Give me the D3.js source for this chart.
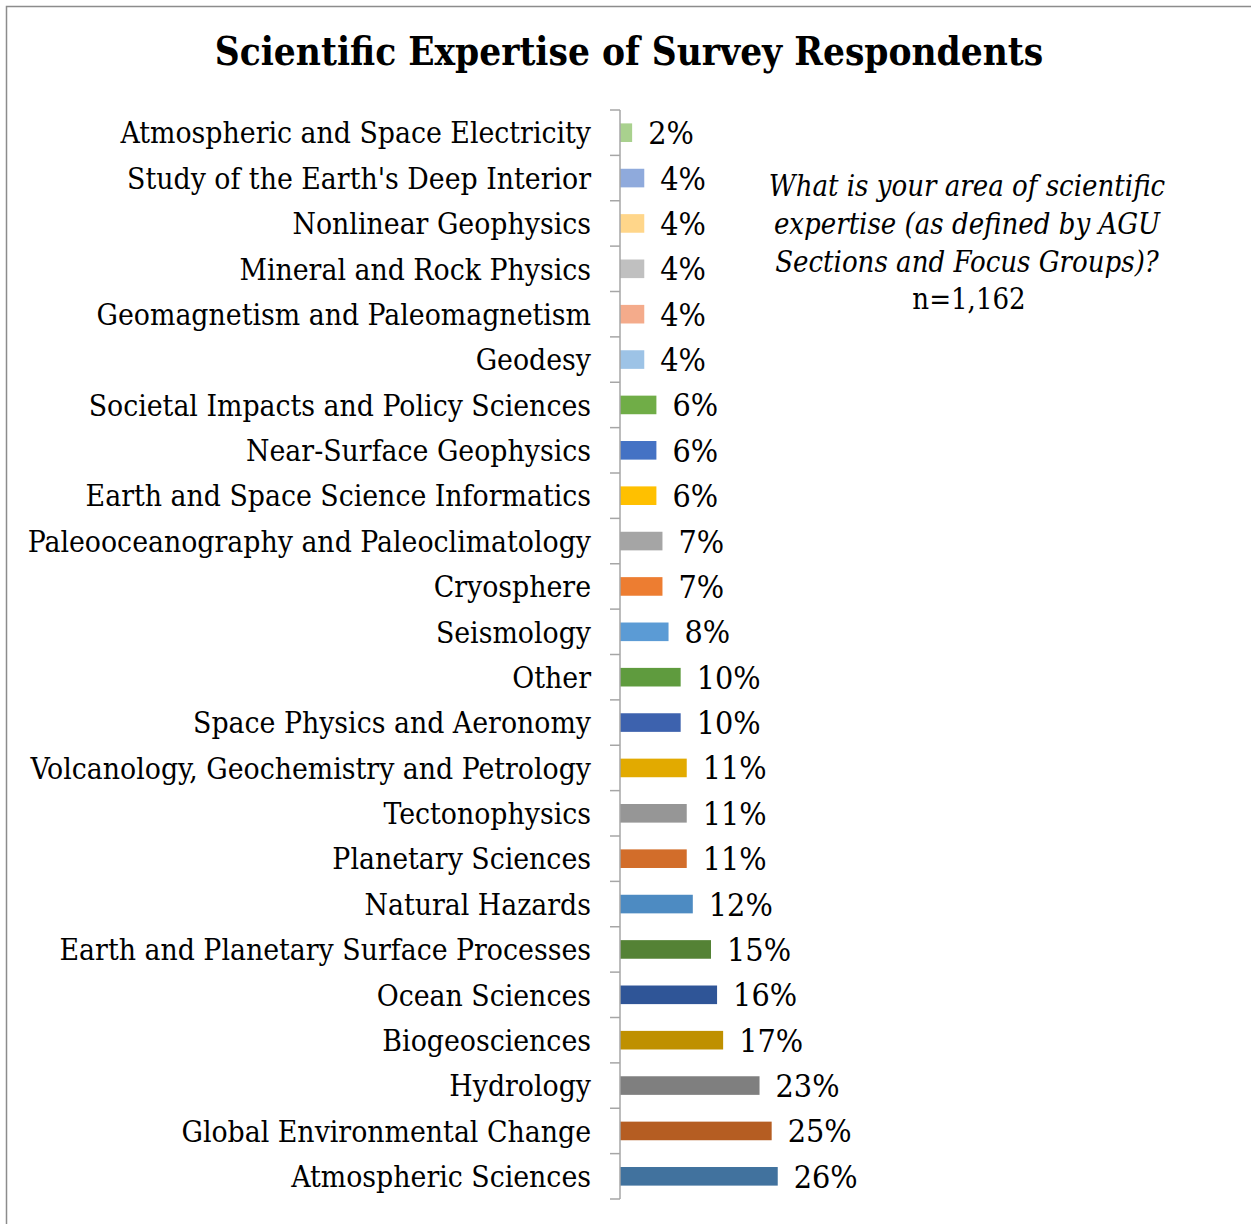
<!DOCTYPE html>
<html>
<head>
<meta charset="utf-8">
<script src="https://cdn.jsdelivr.net/npm/d3@7"></script>
<style>
  html, body { margin: 0; padding: 0; background: #fff; }
  svg { display: block; }
  .serif { font-family: "DejaVu Serif", serif; font-stretch: condensed; }
</style>
</head>
<body>
<svg id="chart" width="1251" height="1224"></svg>
<script>
// Survey categories, listed top to bottom
const categories = [
  "Atmospheric and Space Electricity",
  "Study of the Earth's Deep Interior",
  "Nonlinear Geophysics",
  "Mineral and Rock Physics",
  "Geomagnetism and Paleomagnetism",
  "Geodesy",
  "Societal Impacts and Policy Sciences",
  "Near-Surface Geophysics",
  "Earth and Space Science Informatics",
  "Paleooceanography and Paleoclimatology",
  "Cryosphere",
  "Seismology",
  "Other",
  "Space Physics and Aeronomy",
  "Volcanology, Geochemistry and Petrology",
  "Tectonophysics",
  "Planetary Sciences",
  "Natural Hazards",
  "Earth and Planetary Surface Processes",
  "Ocean Sciences",
  "Biogeosciences",
  "Hydrology",
  "Global Environmental Change",
  "Atmospheric Sciences"
];

// Share of respondents (%) per category
const values = [2, 4, 4, 4, 4, 4, 6, 6, 6, 7, 7, 8, 10, 10, 11, 11, 11, 12, 15, 16, 17, 23, 25, 26];

// One fill per bar
const barColors = [
  "#A9D18E", "#8FAADC", "#FFD68A", "#C0C0C0", "#F4AB8B", "#9DC3E6",
  "#70AD47", "#4472C4", "#FFC000", "#A5A5A5", "#ED7D31", "#5B9BD5",
  "#5F9B3E", "#3D62AE", "#E2AA00", "#969696", "#D26D2A", "#4D8BC2",
  "#548235", "#2F5597", "#BF9000", "#7F7F7F", "#B55D22", "#41729E"
];

const titleText = "Scientific Expertise of Survey Respondents";
const noteLines = [
  "What is your area of scientific",
  "expertise (as defined by AGU",
  "Sections and Focus Groups)?"
];
const sampleText = "n=1,162";

const svg = d3.select("#chart");

// Outer chart frame
svg.append("rect")
  .attr("x", 6.5).attr("y", 6.5)
  .attr("width", 1300).attr("height", 1300)
  .attr("fill", "none")
  .attr("stroke", "#8c8c8c")
  .attr("stroke-width", 1.5);

const x = d3.scaleLinear().domain([0, 30]).range([620, 802]);
const y = d3.scaleBand().domain(categories).range([110, 1199]).paddingInner(0.59).paddingOuter(0.295);

// Title
svg.append("text")
  .attr("class", "serif")
  .attr("x", 629).attr("y", 65)
  .attr("text-anchor", "middle")
  .attr("font-size", 38.4)
  .attr("font-weight", "bold")
  .attr("fill", "#000")
  .text(titleText);

// Bars
svg.append("g").selectAll("rect")
  .data(values)
  .join("rect")
  .attr("x", x(0))
  .attr("y", (d, i) => y(categories[i]))
  .attr("width", d => x(d) - x(0))
  .attr("height", y.bandwidth())
  .attr("fill", (d, i) => barColors[i]);

// Value labels
svg.append("g").selectAll("text")
  .data(values)
  .join("text")
  .attr("class", "serif")
  .attr("x", d => x(d) + 16)
  .attr("y", (d, i) => y(categories[i]) + y.bandwidth() / 2)
  .attr("dy", "0.36em")
  .attr("font-size", 32)
  .attr("fill", "#000")
  .text(d => d + "%");

// Category axis with outward ticks on band boundaries
const axisColor = "#a6a6a6";
const step = y.step();
const axisTop = y.range()[0];
const axisBottom = y.range()[1];
const axisG = svg.append("g");
axisG.append("line")
  .attr("x1", 620).attr("x2", 620)
  .attr("y1", axisTop).attr("y2", axisBottom)
  .attr("stroke", axisColor).attr("stroke-width", 1.5);
axisG.selectAll("line.tick")
  .data(d3.range(categories.length + 1))
  .join("line")
  .attr("class", "tick")
  .attr("x1", 610).attr("x2", 620)
  .attr("y1", i => axisTop + i * step)
  .attr("y2", i => axisTop + i * step)
  .attr("stroke", axisColor).attr("stroke-width", 1.5);

axisG.selectAll("text")
  .data(categories)
  .join("text")
  .attr("class", "serif")
  .attr("x", 591)
  .attr("y", d => y(d) + y.bandwidth() / 2)
  .attr("dy", "0.36em")
  .attr("text-anchor", "end")
  .attr("font-size", 29.8)
  .attr("fill", "#000")
  .text(d => d);

// Question note
const note = svg.append("text")
  .attr("class", "serif")
  .attr("x", 967)
  .attr("text-anchor", "middle")
  .attr("font-size", 29)
  .attr("fill", "#000");
noteLines.forEach((t, i) => {
  note.append("tspan")
    .attr("x", 967)
    .attr("y", 196 + i * 38)
    .attr("font-style", "italic")
    .text(t);
});
note.append("tspan")
  .attr("x", 969)
  .attr("y", 196 + 3 * 38 - 1)
  .text(sampleText);
</script>
</body>
</html>
